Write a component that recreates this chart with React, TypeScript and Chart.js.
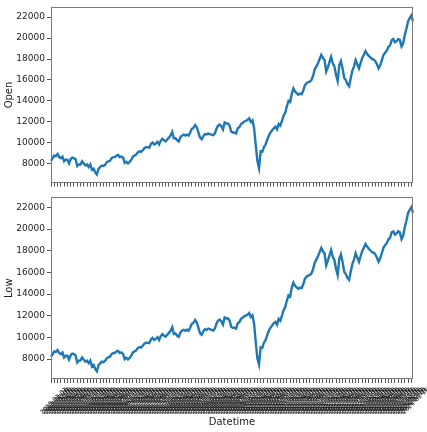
import React, { useEffect, useRef } from 'react';
import { Chart, registerables } from 'chart.js';

Chart.register(...registerables);

// ---- data ----
const YEARS = ['2015', '2016', '2017', '2018', '2019', '2020', '2021', '2022', '2023', '2024'];
const MONTHS = ['01', '02', '03', '04', '05', '06', '07', '08', '09', '10', '11', '12'];
const DAYS = ['01', '16'];

const OPEN = [
  // 2015
  8300, 8550, 8800, 8750, 8950, 8650, 8550, 8700, 8250, 8400, 8400, 8050, 8450, 8600, 8550, 8450, 7800, 7950, 7950, 8250, 8050, 7850, 7950, 7700,
  // 2016
  7950, 7450, 7550, 7200, 7000, 7500, 7700, 7850, 7800, 7900, 8150, 8250, 8300, 8550, 8650, 8650, 8800, 8850, 8650, 8700, 8600, 8100, 8200, 8050,
  // 2017
  8200, 8400, 8700, 8800, 8900, 9100, 9200, 9150, 9300, 9500, 9600, 9600, 9550, 9900, 10050, 9850, 9950, 10100, 9850, 10200, 10400, 10250, 10150, 10350,
  // 2018
  10500, 10700, 11050, 10450, 10450, 10250, 10150, 10550, 10700, 10800, 10700, 10800, 10700, 11000, 11350, 11450, 11700, 11500, 11000, 10500, 10350, 10650, 10850, 10800,
  // 2019
  10900, 10850, 10800, 10750, 10900, 11350, 11650, 11750, 11600, 11300, 11950, 11850, 11850, 11650, 11100, 11000, 11000, 10900, 11400, 11500, 11800, 11900, 12050, 12100,
  // 2020
  12200, 12350, 12000, 12150, 11400, 9800, 8300, 7600, 9200, 9150, 9600, 9850, 10300, 10700, 11000, 11200, 11400, 11550, 11300, 11800, 11650, 12100, 12600, 12900,
  // 2021
  13500, 14000, 13900, 14700, 15200, 14900, 14750, 14600, 14700, 14650, 15000, 15500, 15700, 15800, 15850, 16000, 16400, 17000, 17300, 17600, 18000, 18400, 18100, 17900,
  // 2022
  16800, 17200, 17700, 18200, 17600, 17300, 16500, 15900, 17400, 17800, 17100, 16200, 16000, 15600, 15400, 16200, 16900, 17300, 17900, 17500, 17100, 17600, 18100, 18400,
  // 2023
  18750, 18500, 18300, 18150, 18000, 17950, 17800, 17500, 17100, 17400, 17900, 18400, 18600, 18800, 19150, 19300, 19800, 19900, 19600, 19700, 19900, 19800, 19200, 19500,
  // 2024
  20300, 20900, 21600, 21900, 22150, 21600,
];

const LOW = [
  // 2015
  8230, 8440, 8700, 8660, 8830, 8560, 8450, 8600, 8150, 8300, 8300, 7950, 8350, 8500, 8460, 8330, 7680, 7850, 7880, 8150, 7960, 7760, 7850, 7620,
  // 2016
  7850, 7320, 7460, 7100, 6880, 7420, 7610, 7760, 7710, 7820, 8060, 8160, 8220, 8460, 8570, 8560, 8710, 8750, 8560, 8620, 8480, 7990, 8110, 7970,
  // 2017
  8110, 8320, 8620, 8710, 8810, 9010, 9110, 9060, 9220, 9420, 9510, 9520, 9470, 9810, 9960, 9750, 9860, 10010, 9760, 10120, 10300, 10150, 10060, 10260,
  // 2018
  10420, 10610, 10950, 10320, 10360, 10150, 10060, 10460, 10610, 10700, 10610, 10710, 10610, 10910, 11260, 11360, 11600, 11380, 10870, 10380, 10240, 10560, 10750, 10700,
  // 2019
  10810, 10760, 10700, 10640, 10810, 11260, 11560, 11650, 11480, 11190, 11850, 11750, 11760, 11560, 10990, 10890, 10900, 10800, 11310, 11410, 11710, 11810, 11960, 12010,
  // 2020
  12110, 12250, 11880, 12040, 11250, 9550, 8050, 7500, 9080, 9040, 9510, 9750, 10210, 10610, 10900, 11100, 11300, 11440, 11180, 11700, 11540, 12010, 12510, 12800,
  // 2021
  13400, 13870, 13760, 14590, 15060, 14760, 14620, 14470, 14590, 14540, 14900, 15400, 15610, 15700, 15760, 15900, 16300, 16890, 17180, 17480, 17870, 18250, 17950, 17760,
  // 2022
  16650, 17080, 17560, 18060, 17440, 17150, 16330, 15750, 17260, 17650, 16950, 16050, 15850, 15470, 15300, 16080, 16780, 17180, 17760, 17360, 16980, 17490, 17980, 18280,
  // 2023
  18620, 18380, 18180, 18020, 17870, 17820, 17660, 17350, 16980, 17290, 17790, 18290, 18500, 18700, 19050, 19180, 19700, 19780, 19480, 19590, 19800, 19690, 19070, 19380,
  // 2024
  20180, 20780, 21480, 21780, 22020, 21480,
];

const Y_TICKS = [8000, 10000, 12000, 14000, 16000, 18000, 20000, 22000];

const DATES: string[] = [];
for (const y of YEARS) for (const m of MONTHS) for (const d of DAYS) DATES.push(`${y}-${m}-${d}`);
const LABELS = DATES.slice(0, OPEN.length);

const FONT = "'DejaVu Sans', sans-serif";
const W = 427;

const framePlugin = {
  id: 'frame',
  afterDraw(chart: any) {
    const { ctx, chartArea: a } = chart;
    ctx.save();
    ctx.strokeStyle = '#7a7a7a';
    ctx.lineWidth = 1;
    const l = Math.round(a.left) + 0.5;
    const t = Math.round(a.top) + 0.5;
    const r = Math.round(a.right) - 0.5;
    const b = Math.round(a.bottom) - 0.5;
    ctx.strokeRect(l, t, r - l, b - t);
    ctx.restore();
  },
};

function makeConfig(
  values: number[],
  yTitle: string,
  yMin: number,
  yMax: number,
  showLabels: boolean,
  xHeight: number,
  padding: { left: number; right: number; top: number; bottom: number }
): any {
  return {
    type: 'line',
    data: {
      labels: LABELS,
      datasets: [
        {
          data: values,
          borderColor: '#1f77b4',
          borderWidth: 2.4,
          pointRadius: 0,
          tension: 0,
          fill: false,
        },
      ],
    },
    plugins: [framePlugin],
    options: {
      responsive: false,
      animation: false,
      events: [],
      layout: { padding },
      plugins: { legend: { display: false }, tooltip: { enabled: false } },
      scales: {
        x: {
          type: 'category',
          offset: false,
          grid: {
            display: true,
            drawOnChartArea: false,
            drawTicks: true,
            tickLength: 4,
            tickColor: (c: any) => (c.index % 2 === 0 ? '#555' : 'rgba(0,0,0,0)'),
            offset: false,
          },
          border: { display: false },
          ticks: {
            autoSkip: false,
            maxRotation: 45,
            minRotation: 45,
            padding: 3,
            labelOffset: 15,
            color: '#111',
            font: { family: FONT, size: 6 },
            callback: (_v: any, i: number) => (showLabels ? LABELS[i] : ''),
          },
          title: {
            display: showLabels,
            text: 'Datetime',
            color: '#222',
            font: { family: FONT, size: 10 },
            padding: 0,
          },
          afterFit: (s: any) => {
            s.height = xHeight;
          },
        },
        y: {
          type: 'linear',
          min: yMin,
          max: yMax,
          afterBuildTicks: (s: any) => {
            s.ticks = Y_TICKS.map((v) => ({ value: v }));
          },
          grid: {
            display: true,
            drawOnChartArea: false,
            drawTicks: true,
            tickLength: 4,
            tickColor: '#555',
          },
          border: { display: false },
          ticks: {
            padding: 2,
            color: '#222',
            font: { family: FONT, size: 9 },
            callback: (v: any) => String(v),
          },
          title: {
            display: true,
            text: yTitle,
            color: '#222',
            font: { family: FONT, size: 10 },
            padding: { top: 3, bottom: 0 },
          },
          afterFit: (s: any) => {
            s.width = 51;
          },
        },
      },
    },
  };
}

function ChartCanvas({ config, height, top }: { config: any; height: number; top: number }) {
  const ref = useRef<HTMLCanvasElement>(null);
  useEffect(() => {
    const chart = new Chart(ref.current as HTMLCanvasElement, config);
    return () => chart.destroy();
  }, []);
  return (
    <canvas
      ref={ref}
      width={W}
      height={height}
      style={{ position: 'absolute', left: 0, top, width: W, height }}
    />
  );
}

export default function App() {
  const topCfg = makeConfig(OPEN, 'Open', 6220, 22920, false, 5, { left: 0, right: 14, top: 4, bottom: 0 });
  const botCfg = makeConfig(LOW, 'Low', 6160, 22920, true, 49, { left: 0, right: 14, top: 7, bottom: 4 });
  return (
    <div style={{ position: 'fixed', left: 0, top: 0, width: W, height: 432, background: '#fff' }}>
      <ChartCanvas config={topCfg} height={190} top={0} />
      <ChartCanvas config={botCfg} height={242} top={190} />
    </div>
  );
}
